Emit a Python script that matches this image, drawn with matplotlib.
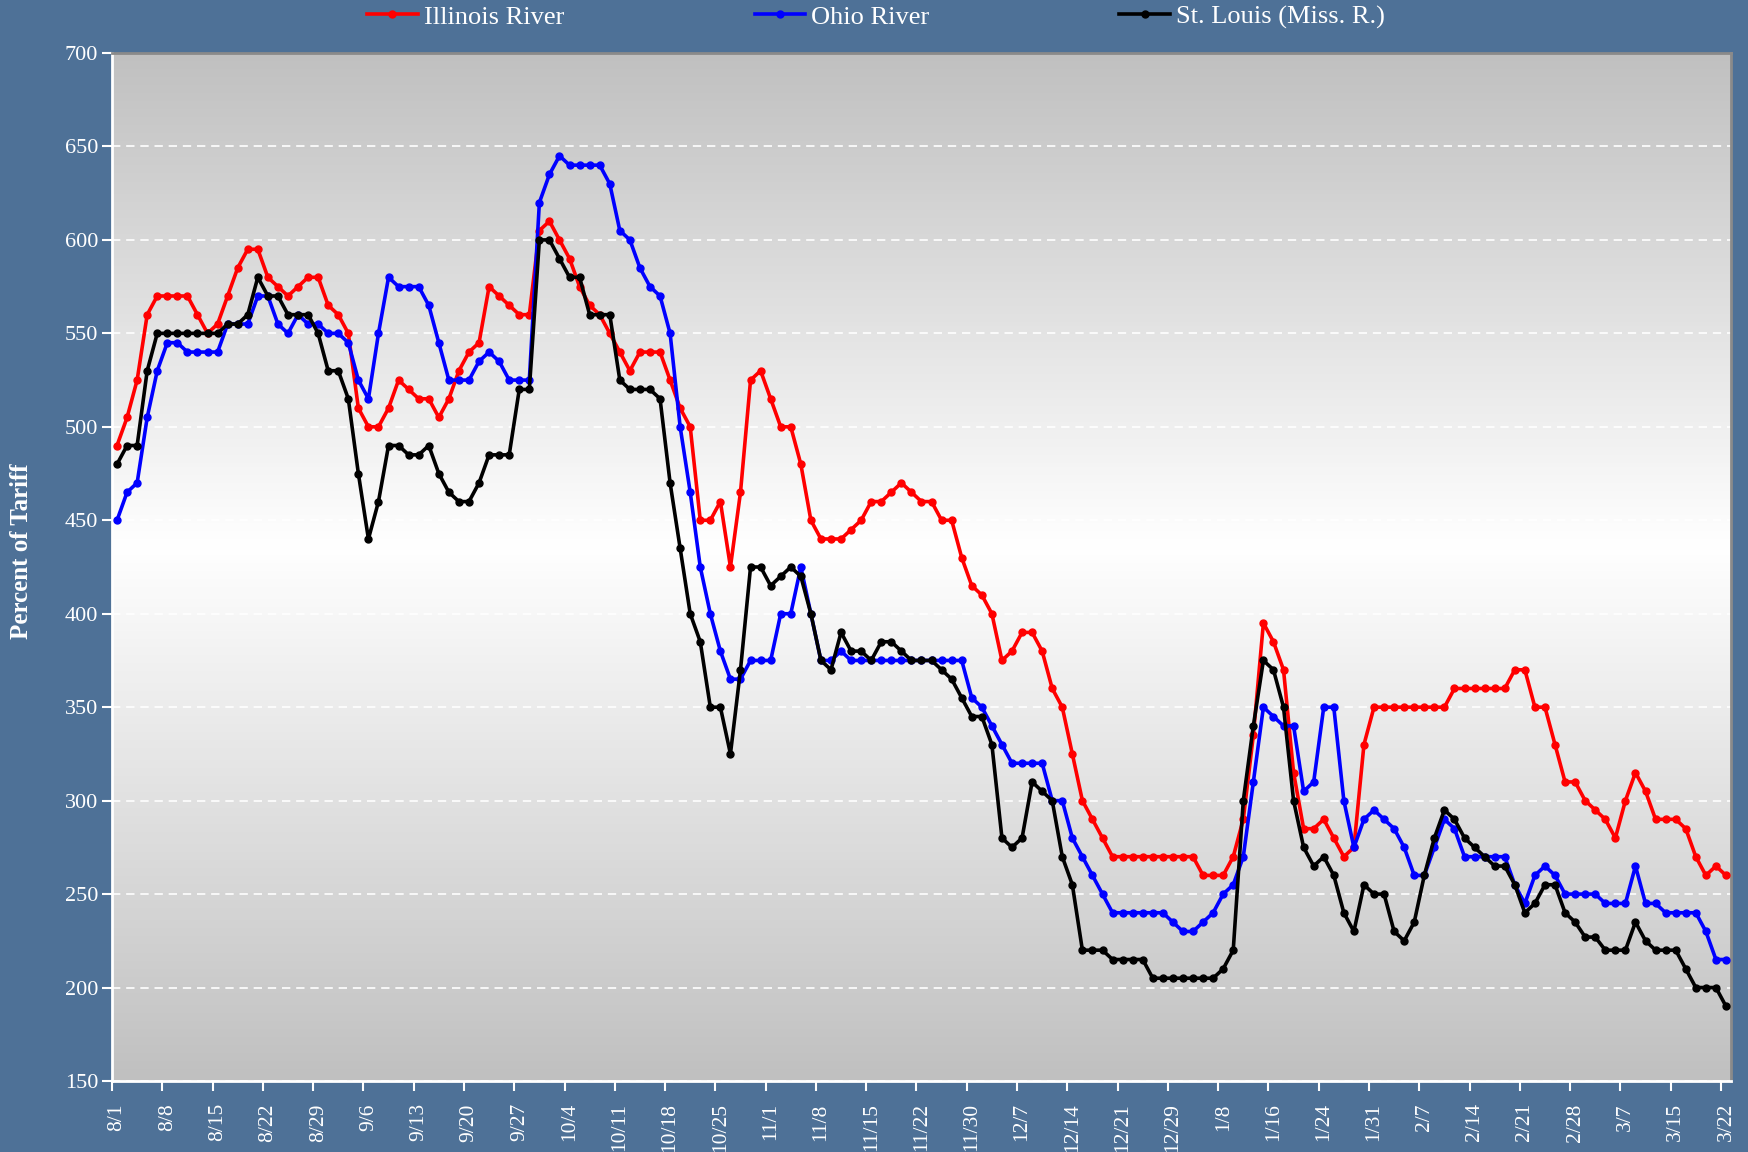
import numpy as np
import matplotlib
matplotlib.use("Agg")
import matplotlib.pyplot as plt
from matplotlib.colors import LinearSegmentedColormap

# tick labels, one every 5 trading days
date_labels = ['8/1', '8/8', '8/15', '8/22', '8/29', '9/6', '9/13', '9/20', '9/27',
               '10/4', '10/11', '10/18', '10/25', '11/1', '11/8', '11/15', '11/22',
               '11/30', '12/7', '12/14', '12/21', '12/29', '1/8', '1/16', '1/24',
               '1/31', '2/7', '2/14', '2/21', '2/28', '3/7', '3/15', '3/22']

# daily barge rates, percent of tariff (rows = one labelled week)
illinois = [490, 505, 525, 560, 570,  570, 570, 570, 560, 550,
            555, 570, 585, 595, 595,  580, 575, 570, 575, 580,
            580, 565, 560, 550, 510,  500, 500, 510, 525, 520,
            515, 515, 505, 515, 530,  540, 545, 575, 570, 565,
            560, 560, 605, 610, 600,  590, 575, 565, 560, 550,
            540, 530, 540, 540, 540,  525, 510, 500, 450, 450,
            460, 425, 465, 525, 530,  515, 500, 500, 480, 450,
            440, 440, 440, 445, 450,  460, 460, 465, 470, 465,
            460, 460, 450, 450, 430,  415, 410, 400, 375, 380,
            390, 390, 380, 360, 350,  325, 300, 290, 280, 270,
            270, 270, 270, 270, 270,  270, 270, 270, 260, 260,
            260, 270, 290, 335, 395,  385, 370, 315, 285, 285,
            290, 280, 270, 275, 330,  350, 350, 350, 350, 350,
            350, 350, 350, 360, 360,  360, 360, 360, 360, 370,
            370, 350, 350, 330, 310,  310, 300, 295, 290, 280,
            300, 315, 305, 290, 290,  290, 285, 270, 260, 265,
            260]

ohio = [450, 465, 470, 505, 530,  545, 545, 540, 540, 540,
        540, 555, 555, 555, 570,  570, 555, 550, 560, 555,
        555, 550, 550, 545, 525,  515, 550, 580, 575, 575,
        575, 565, 545, 525, 525,  525, 535, 540, 535, 525,
        525, 525, 620, 635, 645,  640, 640, 640, 640, 630,
        605, 600, 585, 575, 570,  550, 500, 465, 425, 400,
        380, 365, 365, 375, 375,  375, 400, 400, 425, 400,
        375, 375, 380, 375, 375,  375, 375, 375, 375, 375,
        375, 375, 375, 375, 375,  355, 350, 340, 330, 320,
        320, 320, 320, 300, 300,  280, 270, 260, 250, 240,
        240, 240, 240, 240, 240,  235, 230, 230, 235, 240,
        250, 255, 270, 310, 350,  345, 340, 340, 305, 310,
        350, 350, 300, 275, 290,  295, 290, 285, 275, 260,
        260, 275, 290, 285, 270,  270, 270, 270, 270, 255,
        245, 260, 265, 260, 250,  250, 250, 250, 245, 245,
        245, 265, 245, 245, 240,  240, 240, 240, 230, 215,
        215]

st_louis = [480, 490, 490, 530, 550,  550, 550, 550, 550, 550,
            550, 555, 555, 560, 580,  570, 570, 560, 560, 560,
            550, 530, 530, 515, 475,  440, 460, 490, 490, 485,
            485, 490, 475, 465, 460,  460, 470, 485, 485, 485,
            520, 520, 600, 600, 590,  580, 580, 560, 560, 560,
            525, 520, 520, 520, 515,  470, 435, 400, 385, 350,
            350, 325, 370, 425, 425,  415, 420, 425, 420, 400,
            375, 370, 390, 380, 380,  375, 385, 385, 380, 375,
            375, 375, 370, 365, 355,  345, 345, 330, 280, 275,
            280, 310, 305, 300, 270,  255, 220, 220, 220, 215,
            215, 215, 215, 205, 205,  205, 205, 205, 205, 205,
            210, 220, 300, 340, 375,  370, 350, 300, 275, 265,
            270, 260, 240, 230, 255,  250, 250, 230, 225, 235,
            260, 280, 295, 290, 280,  275, 270, 265, 265, 255,
            240, 245, 255, 255, 240,  235, 227, 227, 220, 220,
            220, 235, 225, 220, 220,  220, 210, 200, 200, 200,
            190]

plt.rcParams['font.family'] = ['Liberation Serif', 'DejaVu Serif']

W, H = 1749, 1152
fig = plt.figure(figsize=(W / 100, H / 100), dpi=100)
fig.patch.set_facecolor('#4e7197')

left, right, top, bottom = 112, 1731, 53, 1081
ax = fig.add_axes([left / W, 1 - bottom / H, (right - left) / W, (bottom - top) / H])

x = np.arange(len(illinois))
ax.set_xlim(-0.5, len(x) - 0.5)
ax.set_ylim(150, 700)

# grey-white-grey gradient plot area
bg = LinearSegmentedColormap.from_list('bg', [(0, '#c0c0c0'), (0.52, '#ffffff'), (1, '#c0c0c0')])
ax.imshow(np.linspace(0, 1, 256).reshape(-1, 1), cmap=bg, aspect='auto', origin='lower',
          extent=(-0.5, len(x) - 0.5, 150, 700), zorder=0)

ax.set_yticks(np.arange(150, 701, 50))
ax.yaxis.grid(True, color='white', linestyle=(0, (5, 3.5)), linewidth=1.2, zorder=1)
ax.set_axisbelow(True)

series = [('Illinois River', illinois, '#ff0000'),
          ('Ohio River', ohio, '#0000ff'),
          ('St. Louis (Miss. R.)', st_louis, '#000000')]
for name, vals, col in series:
    ax.plot(x, vals, color=col, lw=2.6, marker='o', ms=5, label=name, zorder=3)

# labels sit under the first point of each week, tick marks at category boundaries
label_pos = np.arange(0, len(x), 5)
ax.set_xticks(label_pos)
ax.set_xticklabels(date_labels, rotation=90)
ax.set_xticks(label_pos - 0.5, minor=True)
ax.tick_params(axis='x', which='major', length=0, pad=16, labelsize=15.5, colors='white')
ax.tick_params(axis='x', which='minor', length=7, width=1.5, color='white', direction='out')
ax.tick_params(axis='y', length=7, width=1.5, color='white', direction='out',
               labelsize=16, labelcolor='white', pad=3)

for side in ['left', 'bottom']:
    ax.spines[side].set_color('white')
    ax.spines[side].set_linewidth(2)
for side in ['top', 'right']:
    ax.spines[side].set_color('#8a8a8a')
    ax.spines[side].set_linewidth(2)

fig.text(22 / W, 1 - 551 / H, 'Percent of Tariff', rotation=90, ha='center', va='center',
         color='white', fontsize=18, fontweight='bold')

fig.legend(loc='center', bbox_to_anchor=(0.501, 1 - 17 / H), ncol=3, frameon=False,
           fontsize=19, labelcolor='white', handlelength=1.9, handletextpad=0.25,
           columnspacing=7.2, borderpad=0)

fig.savefig('out.png', dpi=100, facecolor=fig.get_facecolor())
